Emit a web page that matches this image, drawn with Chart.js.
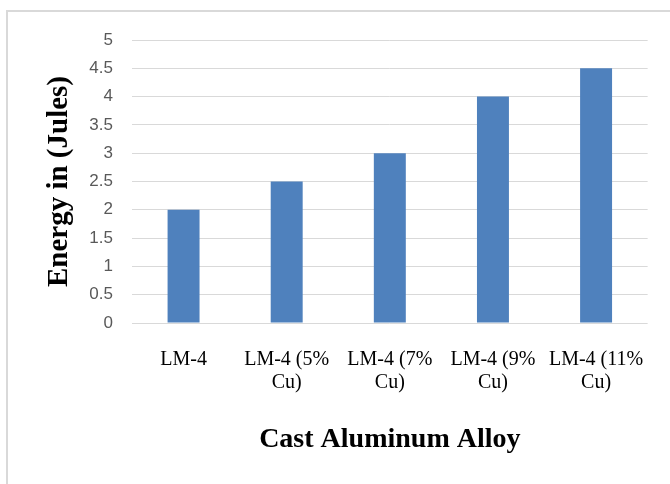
<!DOCTYPE html>
<html>
<head>
<meta charset="utf-8">
<script src="https://cdn.jsdelivr.net/npm/chart.js@4/dist/chart.umd.min.js"></script>
<style>
  html, body { margin: 0; padding: 0; background: #fff; }
  body { width: 670px; height: 484px; overflow: hidden; position: relative; }
  #frame { position: absolute; left: 6px; top: 10px; width: 800px; height: 600px; border: 2px solid #d9d9d9; }
  #c { position: absolute; left: 0; top: 0; }
</style>
</head>
<body>
<div id="frame"></div>
<canvas id="c" width="670" height="484"></canvas>
<script>
// Impact energy per alloy
const categories = [
  ["LM-4"],
  ["LM-4 (5%", "Cu)"],
  ["LM-4 (7%", "Cu)"],
  ["LM-4 (9%", "Cu)"],
  ["LM-4 (11%", "Cu)"]
];
const energy = [2, 2.5, 3, 4, 4.5];
const yTickValues = [0, 0.5, 1, 1.5, 2, 2.5, 3, 3.5, 4, 4.5, 5];
const yTickLabels = ["0", "0.5", "1", "1.5", "2", "2.5", "3", "3.5", "4", "4.5", "5"];

new Chart(document.getElementById('c'), {
  type: 'bar',
  data: {
    labels: categories,
    datasets: [{
      data: energy,
      backgroundColor: '#4f81bd',
      borderWidth: 0,
      categoryPercentage: 1,
      barPercentage: 0.31
    }]
  },
  options: {
    responsive: false,
    animation: false,
    layout: { padding: { top: 40, right: 18, left: 0, bottom: 0 } },
    plugins: { legend: { display: false }, tooltip: { enabled: false } },
    scales: {
      x: {
        grid: { display: false, drawTicks: false },
        border: { display: false },
        ticks: {
          color: '#000',
          font: { family: 'Liberation Serif', size: 20, lineHeight: 1.15 },
          padding: 25,
          maxRotation: 0,
          autoSkip: false
        },
        title: {
          display: true,
          text: 'Cast Aluminum Alloy',
          color: '#000',
          font: { family: 'Liberation Serif', size: 28, weight: 'bold', lineHeight: 1.2 },
          padding: { top: 0, bottom: 27 }
        },
        afterFit(scale) { scale.height = 161; }
      },
      y: {
        min: 0,
        max: 5,
        afterBuildTicks(scale) { scale.ticks = yTickValues.map(v => ({ value: v })); },
        grid: { color: '#d9d9d9', lineWidth: 1, drawTicks: false },
        border: { display: false },
        ticks: {
          color: '#595959',
          font: { family: 'Liberation Sans', size: 17 },
          padding: 19,
          callback(value) {
            const i = yTickValues.indexOf(value);
            return i >= 0 ? yTickLabels[i] : '';
          }
        },
        title: {
          display: true,
          text: 'Energy in (Jules)',
          color: '#000',
          font: { family: 'Liberation Serif', size: 29, weight: 'bold', lineHeight: 1.2 },
          padding: { top: 42, bottom: 0 }
        },
        afterFit(scale) { scale.width = 132; }
      }
    }
  }
});
</script>
</body>
</html>
